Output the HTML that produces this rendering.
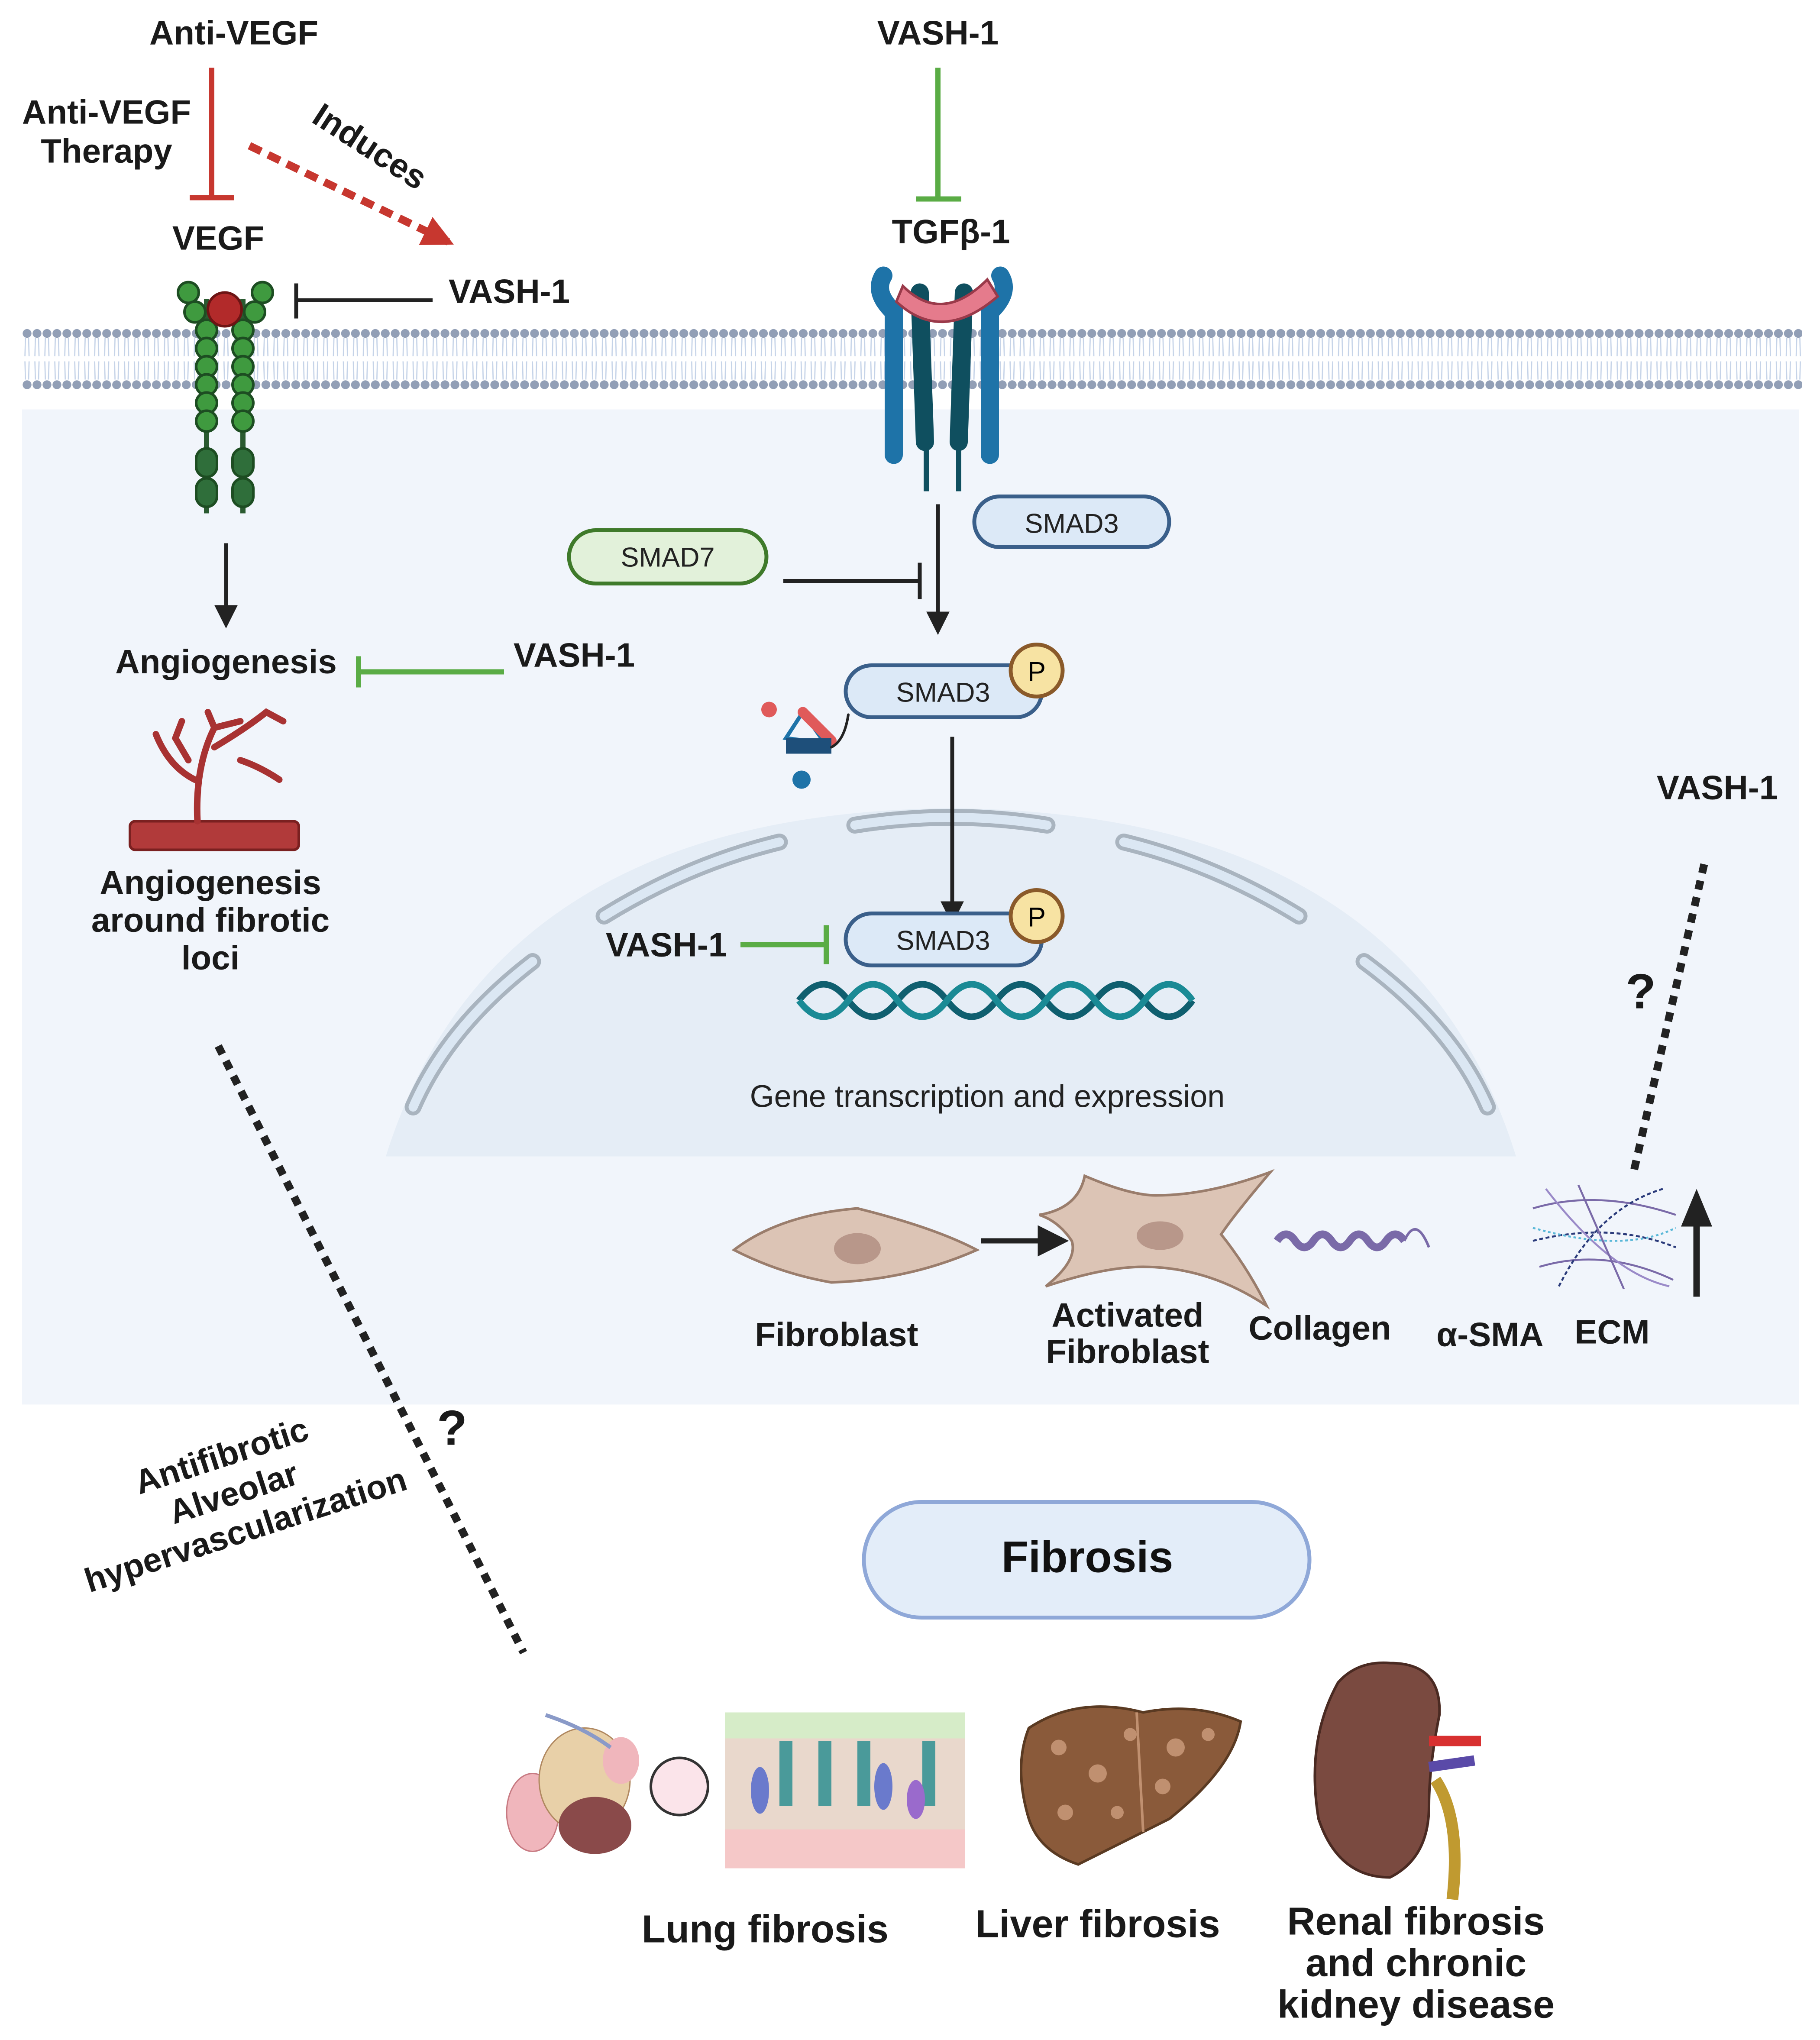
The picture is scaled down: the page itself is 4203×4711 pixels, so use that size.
<!DOCTYPE html>
<html><head><meta charset="utf-8"><style>html,body{margin:0;padding:0;background:#fff}svg{display:block}text{font-family:"Liberation Sans",sans-serif}</style></head><body>
<svg width="4203" height="4711" viewBox="0 0 1401 1570" xmlns="http://www.w3.org/2000/svg">
<defs>
<pattern id="mem" x="17" y="250" width="7.66" height="52" patternUnits="userSpaceOnUse">
<path d="M2.6,10 L2.2,24 M5,10 L5.4,24 M2.2,28 L2.6,42 M5.4,28 L5,42" stroke="#c5d3e8" stroke-width="0.9" fill="none"/>
<circle cx="3.83" cy="6.5" r="3.4" fill="#929fb6"/><circle cx="3.83" cy="46" r="3.4" fill="#929fb6"/>
</pattern>
<marker id="ah" viewBox="0 0 10 10" refX="8" refY="5" markerWidth="6" markerHeight="6" orient="auto"><path d="M0,0L10,5L0,10z" fill="#222"/></marker>
<marker id="ahr" viewBox="0 0 10 10" refX="8" refY="5" markerWidth="4" markerHeight="4" orient="auto"><path d="M0,0L10,5L0,10z" fill="#c7372f"/></marker>
</defs>
<rect x="17" y="315" width="1368" height="766" fill="#f1f5fb"/>
<rect x="17" y="250" width="1370" height="52" fill="url(#mem)"/>
<!-- nucleus -->
<path d="M297,890 Q380,625 732,622 Q1085,625 1167,890 Z" fill="#e5edf6"/>
<g fill="none" stroke-linecap="round">
<g stroke="#a9b4bf" stroke-width="13">
<path d="M318,852 Q345,790 410,740"/><path d="M465,705 Q530,665 600,648"/><path d="M658,635 Q732,623 806,635"/><path d="M865,648 Q935,665 1000,705"/><path d="M1050,740 Q1118,790 1145,852"/>
</g>
<g stroke="#dbe7f3" stroke-width="7">
<path d="M318,852 Q345,790 410,740"/><path d="M465,705 Q530,665 600,648"/><path d="M658,635 Q732,623 806,635"/><path d="M865,648 Q935,665 1000,705"/><path d="M1050,740 Q1118,790 1145,852"/>
</g></g>
<g font-weight="bold" fill="#1a1a1a" text-anchor="middle" font-size="26">
<text x="180" y="34">Anti-VEGF</text>
<text x="82" y="95">Anti-VEGF</text><text x="82" y="125">Therapy</text>
<text x="168" y="192">VEGF</text>
<text x="392" y="233">VASH-1</text>
<text x="174" y="518">Angiogenesis</text>
<text x="442" y="513">VASH-1</text>
<text x="162" y="688">Angiogenesis</text><text x="162" y="717">around fibrotic</text><text x="162" y="746">loci</text>
<text x="722" y="34">VASH-1</text>
<text x="732" y="187">TGFβ-1</text>
<text x="513" y="736">VASH-1</text>
<text x="1322" y="615">VASH-1</text>
<text x="644" y="1036">Fibroblast</text>
<text x="868" y="1021">Activated</text><text x="868" y="1049">Fibroblast</text>
<text x="1016" y="1031">Collagen</text>
<text x="1147" y="1036">α-SMA</text>
<text x="1241" y="1034">ECM</text>
<text x="1263" y="776" font-size="38">?</text>
<text x="348" y="1112" font-size="38">?</text>
<text x="589" y="1495" font-size="30">Lung fibrosis</text>
<text x="845" y="1491" font-size="30">Liver fibrosis</text>
<text x="1090" y="1489" font-size="30">Renal fibrosis</text><text x="1090" y="1521" font-size="30">and chronic</text><text x="1090" y="1553" font-size="30">kidney disease</text>
<text transform="translate(280,120) rotate(33)" font-size="26">Induces</text>
<g transform="translate(185,1165) rotate(-18)" font-size="26"><text y="-38">Antifibrotic</text><text y="-8">Alveolar</text><text y="22">hypervascularization</text></g>
</g>
<line x1="163" y1="52" x2="163" y2="150" stroke="#c7372f" stroke-width="4"/><line x1="146" y1="152" x2="180" y2="152" stroke="#c7372f" stroke-width="4"/>
<line x1="192" y1="112" x2="345" y2="186" stroke="#c7372f" stroke-width="6" stroke-dasharray="10 6" marker-end="url(#ahr)"/>
<line x1="333" y1="231" x2="228" y2="231" stroke="#222" stroke-width="3"/><line x1="228" y1="218" x2="228" y2="245" stroke="#222" stroke-width="3"/>
<g fill="#3f9a3f" stroke="#1d4d22" stroke-width="2">
<line x1="159" y1="230" x2="159" y2="395" stroke="#2a5a30" stroke-width="4"/><line x1="187" y1="230" x2="187" y2="395" stroke="#2a5a30" stroke-width="4"/>
<circle cx="145" cy="225" r="8"/><circle cx="150" cy="240" r="8"/><circle cx="159" cy="254" r="8"/><circle cx="159" cy="268" r="8"/><circle cx="159" cy="282" r="8"/><circle cx="159" cy="296" r="8"/><circle cx="159" cy="310" r="8"/><circle cx="159" cy="324" r="8"/>
<circle cx="202" cy="225" r="8"/><circle cx="196" cy="240" r="8"/><circle cx="187" cy="254" r="8"/><circle cx="187" cy="268" r="8"/><circle cx="187" cy="282" r="8"/><circle cx="187" cy="296" r="8"/><circle cx="187" cy="310" r="8"/><circle cx="187" cy="324" r="8"/>
<rect x="151" y="345" width="16" height="22" rx="8" fill="#2f6e3a"/><rect x="151" y="368" width="16" height="22" rx="8" fill="#2f6e3a"/>
<rect x="179" y="345" width="16" height="22" rx="8" fill="#2f6e3a"/><rect x="179" y="368" width="16" height="22" rx="8" fill="#2f6e3a"/>
</g>
<circle cx="173" cy="238" r="13" fill="#b22a2a" stroke="#6d1414" stroke-width="2"/>
<line x1="174" y1="418" x2="174" y2="480" stroke="#222" stroke-width="3" marker-end="url(#ah)"/>
<line x1="388" y1="517" x2="276" y2="517" stroke="#5aac45" stroke-width="4"/><line x1="276" y1="505" x2="276" y2="529" stroke="#5aac45" stroke-width="4"/>
<rect x="100" y="632" width="130" height="22" rx="4" fill="#b13a3a" stroke="#7a2020" stroke-width="2"/>
<g stroke="#a83232" stroke-width="5" fill="none" stroke-linecap="round">
<path d="M152,632 Q150,590 165,560 L160,548"/><path d="M165,575 Q190,560 205,548 L218,555"/><path d="M150,600 Q130,590 120,565"/><path d="M165,560 L185,555"/><path d="M145,585 L135,568 L140,555"/><path d="M185,585 Q200,590 215,600"/>
</g>
<line x1="168" y1="805" x2="403" y2="1272" stroke="#222" stroke-width="6" stroke-dasharray="7 6"/>
<line x1="722" y1="52" x2="722" y2="152" stroke="#5aac45" stroke-width="4"/><line x1="705" y1="153" x2="740" y2="153" stroke="#5aac45" stroke-width="4"/>
<g>
<path d="M680,212 Q672,225 688,240 L688,350" stroke="#1e73a8" stroke-width="14" fill="none" stroke-linecap="round"/>
<path d="M770,212 Q778,225 762,240 L762,350" stroke="#1e73a8" stroke-width="14" fill="none" stroke-linecap="round"/>
<path d="M708,225 L712,340" stroke="#0f4f5f" stroke-width="14" fill="none" stroke-linecap="round"/>
<path d="M742,225 L738,340" stroke="#0f4f5f" stroke-width="14" fill="none" stroke-linecap="round"/>
<line x1="713" y1="340" x2="713" y2="378" stroke="#0f4f5f" stroke-width="4"/><line x1="738" y1="340" x2="738" y2="378" stroke="#0f4f5f" stroke-width="4"/>
<path d="M695,220 Q725,250 760,215 L768,228 Q725,265 690,232Z" fill="#e57b8c" stroke="#9a3a4a" stroke-width="2"/>
</g>
<rect x="750" y="382" width="150" height="39" rx="19.5" fill="#dce9f7" stroke="#3a5f8a" stroke-width="3"/>
<text x="825" y="410" text-anchor="middle" font-size="21" fill="#222">SMAD3</text>
<rect x="438" y="408" width="152" height="41" rx="20.5" fill="#e2f1da" stroke="#3f7a2a" stroke-width="3"/>
<text x="514" y="436" text-anchor="middle" font-size="21" fill="#222">SMAD7</text>
<line x1="603" y1="447" x2="708" y2="447" stroke="#222" stroke-width="3"/><line x1="708" y1="433" x2="708" y2="461" stroke="#222" stroke-width="3"/>
<line x1="722" y1="388" x2="722" y2="485" stroke="#222" stroke-width="3" marker-end="url(#ah)"/>
<rect x="651" y="512" width="151" height="40" rx="20" fill="#dce9f7" stroke="#3a5f8a" stroke-width="3"/>
<text x="726" y="540" text-anchor="middle" font-size="21" fill="#222">SMAD3</text>
<circle cx="798" cy="516" r="20" fill="#f7e3a3" stroke="#8a5a2a" stroke-width="3"/><text x="798" y="524" text-anchor="middle" font-size="21">P</text>
<g stroke-width="3" stroke-linecap="round" fill="none">
<path d="M605,568 L618,548 L635,572 Z" stroke="#1e73a8"/><path d="M618,548 L640,570" stroke="#e05a5a" stroke-width="8"/>
<rect x="605" y="568" width="35" height="12" fill="#1e4f7a" stroke="none"/>
<circle cx="617" cy="600" r="7" fill="#1e73a8" stroke="none"/><circle cx="592" cy="546" r="6" fill="#e05a5a" stroke="none"/>
<path d="M640,575 Q650,570 653,550" stroke="#222" stroke-width="2"/>
</g>
<line x1="733" y1="567" x2="733" y2="708" stroke="#222" stroke-width="3" marker-end="url(#ah)"/>
<rect x="651" y="703" width="151" height="40" rx="20" fill="#dce9f7" stroke="#3a5f8a" stroke-width="3"/>
<text x="726" y="731" text-anchor="middle" font-size="21" fill="#222">SMAD3</text>
<circle cx="798" cy="705" r="20" fill="#f7e3a3" stroke="#8a5a2a" stroke-width="3"/><text x="798" y="713" text-anchor="middle" font-size="21">P</text>
<line x1="570" y1="727" x2="636" y2="727" stroke="#5aac45" stroke-width="4"/><line x1="636" y1="712" x2="636" y2="742" stroke="#5aac45" stroke-width="4"/>
<g fill="none" stroke-width="5">
<path d="M615,770 Q634,745 653,770 T691,770 T729,770 T767,770 T805,770 T843,770 T881,770 T918,770" stroke="#0f5f6f"/>
<path d="M615,770 Q634,795 653,770 T691,770 T729,770 T767,770 T805,770 T843,770 T881,770 T918,770" stroke="#1a8a95"/>
</g>
<text x="760" y="852" text-anchor="middle" font-size="24" fill="#222">Gene transcription and expression</text>
<path d="M565,962 Q600,935 660,930 Q720,945 752,962 Q700,985 640,987 Q600,980 565,962Z" fill="#dcc4b5" stroke="#9a7d6c" stroke-width="2"/>
<ellipse cx="660" cy="961" rx="18" ry="12" fill="#b8978a"/>
<line x1="755" y1="955" x2="818" y2="955" stroke="#222" stroke-width="4" marker-end="url(#ah)"/>
<path d="M835,905 Q870,920 890,920 Q930,920 978,902 Q950,935 940,950 Q960,975 975,1005 Q930,975 880,975 Q850,975 805,990 Q830,970 825,955 Q815,940 800,935 Q830,930 835,905Z" fill="#dcc4b5" stroke="#9a7d6c" stroke-width="2"/>
<ellipse cx="893" cy="951" rx="18" ry="11" fill="#b8978a"/>
<path d="M983,955 Q990,945 997,955 T1011,955 T1025,955 T1039,955 T1053,955 T1067,955 T1081,955" stroke="#7a6aa8" stroke-width="6" fill="none"/>
<path d="M1081,955 Q1090,935 1100,960" stroke="#7a6aa8" stroke-width="2" fill="none"/>
<g stroke-width="1.5" fill="none">
<path d="M1180,930 Q1230,915 1290,935" stroke="#7a6aa8"/><path d="M1180,955 Q1240,940 1290,960" stroke="#2a3a7a" stroke-dasharray="3 2"/>
<path d="M1185,975 Q1235,960 1288,985" stroke="#7a6aa8"/><path d="M1190,915 Q1240,980 1285,990" stroke="#9a8ac8"/>
<path d="M1200,990 Q1230,930 1280,915" stroke="#2a3a7a" stroke-dasharray="3 2"/><path d="M1180,945 Q1250,965 1290,945" stroke="#5ab8d8" stroke-dasharray="2 2"/>
<path d="M1215,912 L1250,992" stroke="#7a6aa8"/>
</g>
<line x1="1306" y1="998" x2="1306" y2="935" stroke="#222" stroke-width="5"/><path d="M1294,944 L1306,915 L1318,944Z" fill="#222"/>
<line x1="1258" y1="900" x2="1313" y2="660" stroke="#222" stroke-width="6" stroke-dasharray="7 6"/>
<rect x="665" y="1156" width="343" height="89" rx="44.5" fill="#e3edf9" stroke="#8fa8d8" stroke-width="3"/>
<text x="837" y="1210" text-anchor="middle" font-size="34" font-weight="bold" fill="#111">Fibrosis</text>
<g>
<ellipse cx="410" cy="1395" rx="20" ry="30" fill="#f0b6bc" stroke="#c77a82"/>
<ellipse cx="450" cy="1370" rx="35" ry="40" fill="#e8d0a8" stroke="#b08860"/>
<ellipse cx="458" cy="1405" rx="28" ry="22" fill="#8a4a4a"/>
<ellipse cx="478" cy="1355" rx="14" ry="18" fill="#f0b6bc"/>
<path d="M420,1320 Q450,1330 470,1345" stroke="#8a9ac8" stroke-width="3" fill="none"/>
<circle cx="523" cy="1375" r="22" fill="#fbe4ea" stroke="#333" stroke-width="2"/>
<rect x="558" y="1318" width="185" height="120" fill="#e9d8cc"/>
<rect x="558" y="1318" width="185" height="20" fill="#d6ecc8"/>
<rect x="558" y="1408" width="185" height="30" fill="#f5c8c8"/>
<g fill="#4a9a9a"><rect x="600" y="1340" width="10" height="50"/><rect x="630" y="1340" width="10" height="50"/><rect x="660" y="1340" width="10" height="50"/><rect x="710" y="1340" width="10" height="50"/></g>
<g fill="#6a7acc"><ellipse cx="585" cy="1378" rx="7" ry="18"/><ellipse cx="680" cy="1375" rx="7" ry="18"/></g>
<ellipse cx="705" cy="1385" rx="7" ry="15" fill="#9a6acc"/>
</g>
<path d="M792,1330 Q830,1305 880,1318 Q920,1310 955,1325 Q950,1360 900,1400 Q860,1420 830,1435 Q800,1425 792,1400 Q780,1360 792,1330Z" fill="#8a5a3a" stroke="#5a3a22" stroke-width="2"/>
<g fill="#c09070"><circle cx="815" cy="1345" r="6"/><circle cx="845" cy="1365" r="7"/><circle cx="870" cy="1335" r="5"/><circle cx="905" cy="1345" r="7"/><circle cx="930" cy="1335" r="5"/><circle cx="820" cy="1395" r="6"/><circle cx="860" cy="1395" r="5"/><circle cx="895" cy="1375" r="6"/></g>
<path d="M875,1318 L880,1410" stroke="#c09070" stroke-width="2"/>
<path d="M1070,1280 Q1110,1280 1108,1320 Q1100,1360 1100,1390 Q1100,1430 1070,1445 Q1030,1445 1015,1400 Q1005,1340 1030,1295 Q1045,1278 1070,1280Z" fill="#7a4a40" stroke="#4a2a22" stroke-width="2"/>
<path d="M1100,1340 L1140,1340" stroke="#d83030" stroke-width="8"/><path d="M1100,1360 L1135,1355" stroke="#5a4aa8" stroke-width="8"/>
<path d="M1105,1370 Q1125,1400 1118,1462" stroke="#c09a30" stroke-width="9" fill="none"/>
</svg>
</body></html>
